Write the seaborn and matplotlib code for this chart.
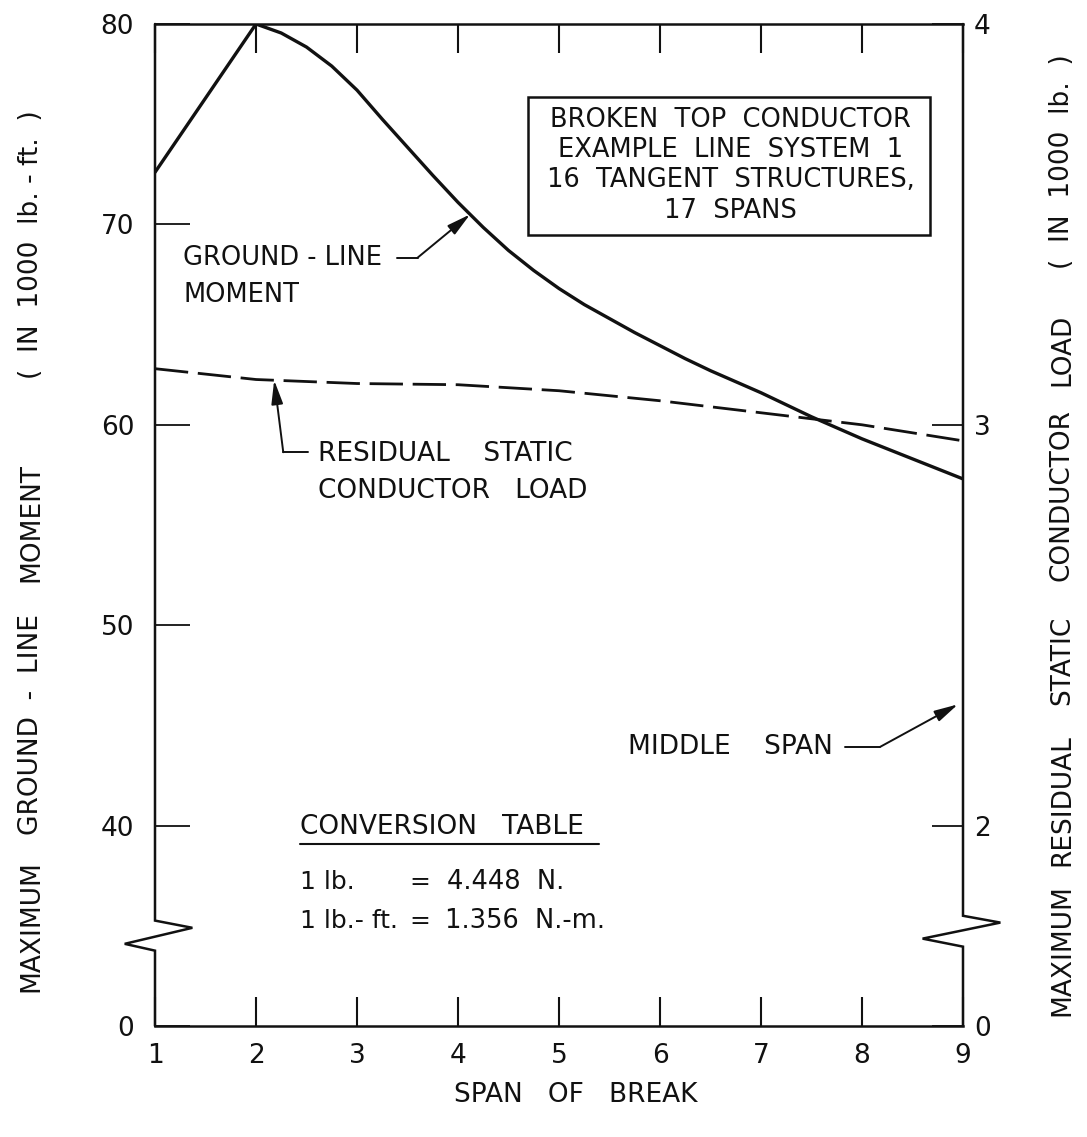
import numpy as np
import pandas as pd
import matplotlib
matplotlib.use("Agg")
import matplotlib.pyplot as plt
import seaborn as sns
from matplotlib.patches import Rectangle

# ---- data -------------------------------------------------------------
# Maximum ground-line moment (1000 lb-ft) versus span of break
moment_span = [1, 2, 2.25, 2.5, 2.75, 3, 3.25, 3.5, 3.75, 4, 4.25, 4.5, 4.75, 5,
               5.25, 5.5, 5.75, 6, 6.25, 6.5, 6.75, 7, 7.25, 7.5, 7.75, 8,
               8.25, 8.5, 8.75, 9]
moment_kipft = [72.6, 80.0, 79.55, 78.85, 77.9, 76.7, 75.25, 73.85, 72.45, 71.1,
                69.85, 68.7, 67.7, 66.8, 66.0, 65.3, 64.6, 63.95, 63.3, 62.7,
                62.15, 61.6, 61.0, 60.4, 59.85, 59.3, 58.8, 58.3, 57.8, 57.3]

# Maximum residual static conductor load (1000 lb) versus span of break
load_span = [1, 2, 3, 4, 5, 6, 7, 8, 9]
load_kips = [3.14, 3.113, 3.103, 3.10, 3.085, 3.06, 3.03, 3.00, 2.96]

x_ticks = [1, 2, 3, 4, 5, 6, 7, 8, 9]
left_ticks = [30, 40, 50, 60, 70, 80]          # 30 sits at the broken-scale origin
left_tick_labels = ["0", "40", "50", "60", "70", "80"]
right_ticks = [1.5, 2, 3, 4]                    # 1.5 sits at the broken-scale origin
right_tick_labels = ["0", "2", "3", "4"]

box_lines = ["BROKEN  TOP  CONDUCTOR", "EXAMPLE  LINE  SYSTEM  1",
             "16  TANGENT  STRUCTURES,", "17  SPANS"]

# vertical axis titles, word groups with their centre heights (pixels from top)
left_title = [("MAXIMUM", 926), ("GROUND  -  LINE", 725), ("MOMENT", 522),
              ("(  IN  1000  lb. - ft.  )", 245)]
right_title = [("MAXIMUM", 950), ("RESIDUAL", 800), ("STATIC", 660),
               ("CONDUCTOR", 495), ("LOAD", 350), ("(  IN  1000  lb.  )", 162)]

moment_df = pd.DataFrame({"span": moment_span, "moment": moment_kipft})
load_df = pd.DataFrame({"span": load_span, "load": load_kips})

# ---- style ------------------------------------------------------------
sns.set_theme(style="white")
INK = "#111111"
plt.rcParams["font.family"] = ["DejaVu Sans"]
plt.rcParams["text.color"] = INK
FS = 19

W, H = 1087, 1137
fig = plt.figure(figsize=(W / 100, H / 100), dpi=100)
ax = fig.add_axes([155 / W, 1 - 1026 / H, 808 / W, 1002 / H])
ax2 = ax.twinx()

sns.lineplot(data=moment_df, x="span", y="moment", ax=ax, color=INK, lw=2.4)
sns.lineplot(data=load_df, x="span", y="load", ax=ax2, color=INK, lw=2.0)
ax2.lines[-1].set_dashes([12, 3.5])

ax.set_xlim(1, 9)
ax.set_ylim(30, 80)
ax2.set_ylim(1.5, 4)

# ---- frame with broken-scale zigzags ----------------------------------
for a in (ax, ax2):
    for side in ("left", "right"):
        a.spines[side].set_visible(False)
    a.spines["top"].set_visible(a is ax)
    a.spines["bottom"].set_visible(a is ax)
for side in ("top", "bottom"):
    ax.spines[side].set_linewidth(1.8)
    ax.spines[side].set_color(INK)

frame_kw = dict(color=INK, lw=1.8, clip_on=False, solid_joinstyle="miter")
ax.plot([1, 1, 1.37, 0.70, 1, 1], [80, 35.26, 34.9, 34.1, 33.76, 30], **frame_kw)
ax.plot([9, 9, 9.37, 8.60, 9, 9], [80, 35.5, 35.16, 34.36, 33.96, 30], **frame_kw)

# ---- ticks ------------------------------------------------------------
ax.set_xticks(x_ticks)
ax.set_xticklabels([str(t) for t in x_ticks])
ax.set_yticks(left_ticks)
ax.set_yticklabels(left_tick_labels)
ax2.set_yticks(right_ticks)
ax2.set_yticklabels(right_tick_labels)

ax.tick_params(axis="x", which="both", direction="in", top=True, bottom=True,
               length=21, width=1.5, color=INK, labelcolor=INK, labelsize=FS, pad=12)
ax.tick_params(axis="y", direction="in", left=True, right=False,
               length=25, width=1.3, color=INK, labelcolor=INK, labelsize=FS, pad=15)
ax2.tick_params(axis="y", direction="in", right=True, left=False,
                length=22, width=1.3, color=INK, labelcolor=INK, labelsize=FS, pad=8)
ax.set_xlabel("")
ax.set_ylabel("")
ax2.set_ylabel("")

# ---- axis titles ------------------------------------------------------
fig.text(576 / W, 1 - 1095 / H, "SPAN   OF   BREAK", fontsize=FS,
         ha="center", va="center")
for words, yc in left_title:
    fig.text(31 / W, 1 - yc / H, words, fontsize=FS, rotation=90,
             ha="center", va="center")
for words, yc in right_title:
    fig.text(1062 / W, 1 - yc / H, words, fontsize=FS, rotation=90,
             ha="center", va="center")

# ---- description box --------------------------------------------------
ax.add_patch(Rectangle((4.69, 69.49), 3.98, 6.87, fill=False, lw=1.8,
                       edgecolor=INK, zorder=3))
ax.text(6.70, 72.95, "\n".join(box_lines), fontsize=18.5, ha="center", va="center",
        multialignment="center", linespacing=1.22)

# ---- curve call-outs --------------------------------------------------
arrow_kw = dict(arrowstyle="-|>,head_length=0.9,head_width=0.22", color=INK,
                lw=1.4, shrinkA=0, shrinkB=0, mutation_scale=16)
lead_kw = dict(color=INK, lw=1.4)

ax.text(1.28, 68.34, "GROUND - LINE", fontsize=18.5, ha="left", va="center")
ax.text(1.28, 66.50, "MOMENT", fontsize=18.5, ha="left", va="center")
gl_x = 4.12
ax.plot([3.40, 3.60], [68.34, 68.34], **lead_kw)
ax.annotate("", xy=(gl_x, np.interp(gl_x, moment_span, moment_kipft)),
            xytext=(3.60, 68.34), arrowprops=arrow_kw)

ax.text(2.61, 58.55, "RESIDUAL    STATIC", fontsize=FS, ha="left", va="center")
ax.text(2.61, 56.68, "CONDUCTOR   LOAD", fontsize=FS, ha="left", va="center")
rs_x = 2.18
ax.plot([2.27, 2.51], [58.63, 58.63], **lead_kw)
ax2.annotate("", xy=(rs_x, np.interp(rs_x, load_span, load_kips)),
             xytext=(2.27, 58.63 / 20), arrowprops=arrow_kw)

ax.text(5.68, 43.93, "MIDDLE    SPAN", fontsize=FS, ha="left", va="center")
ax.plot([7.83, 8.18], [43.93, 43.93], **lead_kw)
ax.annotate("", xy=(8.95, 46.05), xytext=(8.18, 43.93), arrowprops=arrow_kw)

# ---- conversion table -------------------------------------------------
ax.text(2.436, 39.94, "CONVERSION   TABLE", fontsize=FS, ha="left", va="center")
ax.plot([2.436, 5.40], [39.09, 39.09], color=INK, lw=1.5)
ax.text(2.436, 37.2, "1 lb.", fontsize=18, ha="left", va="center")
ax.text(3.52, 37.2, "=", fontsize=18, ha="left", va="center")
ax.text(3.89, 37.2, "4.448  N.", fontsize=18.5, ha="left", va="center")
ax.text(2.436, 35.26, "1 lb.- ft.", fontsize=18, ha="left", va="center")
ax.text(3.52, 35.26, "=", fontsize=18, ha="left", va="center")
ax.text(3.87, 35.26, "1.356  N.-m.", fontsize=18.5, ha="left", va="center")

fig.savefig("out.png", dpi=100, facecolor="white")
